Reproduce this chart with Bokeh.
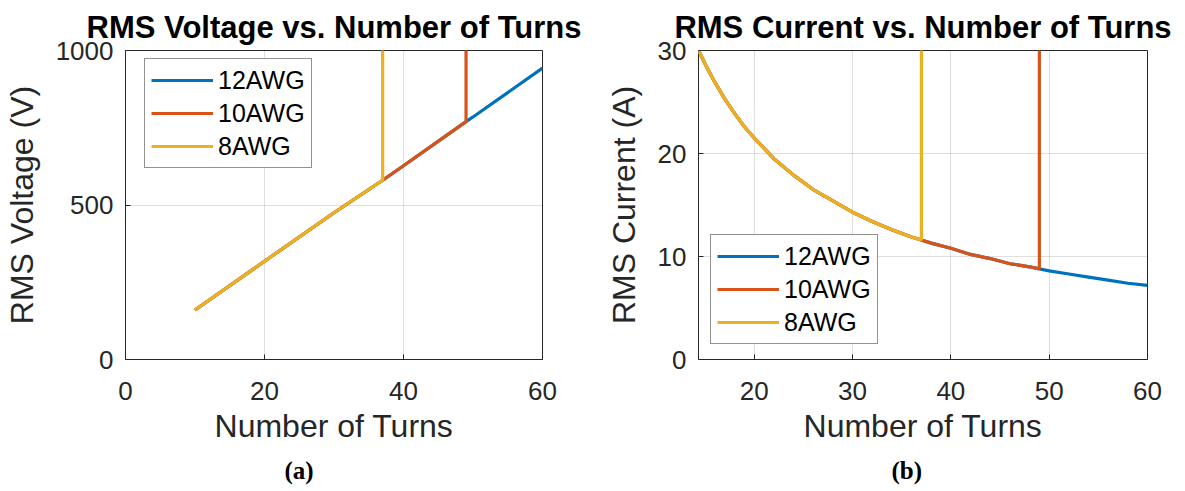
from bokeh.plotting import figure
from bokeh.layouts import row
from bokeh.models import Range1d, Legend, LegendItem, FixedTicker, Title
from bokeh.embed import file_html
from bokeh.resources import INLINE

# ---------------- data ----------------
series_names = ["12AWG", "10AWG", "8AWG"]
series_colors = ["#0072BD", "#D95319", "#EDB120"]
turn_limits = [None, 49, 37]          # max turns allowed per wire gauge

turns_v = [10, 20, 30, 37, 40, 49, 50, 60]
rms_voltage = [160, 318, 475, 580, 627, 770, 785, 943]

turns_i = [14.33, 15, 16, 17, 18, 19, 20, 22, 24, 26, 28, 30, 32, 34, 36, 37,
           38, 40, 42, 44, 46, 48, 49, 50, 52, 54, 56, 58, 60]
rms_current = [30.0, 28.7, 26.9, 25.3, 23.9, 22.6, 21.5, 19.5, 17.9, 16.5, 15.4,
               14.3, 13.4, 12.6, 11.9, 11.6, 11.3, 10.8, 10.2, 9.8, 9.3, 9.0,
               8.8, 8.6, 8.3, 8.0, 7.7, 7.4, 7.2]

v_xticks = [0, 20, 40, 60]
v_yticks = [0, 500, 1000]
i_xticks = [20, 30, 40, 50, 60]
i_yticks = [0, 10, 20, 30]

FONT = "Liberation Sans"
AX = "#262626"


def series(xs, ys, limit, top):
    if limit is None:
        return list(xs), list(ys)
    sx = [x for x in xs if x <= limit]
    sy = [y for x, y in zip(xs, ys) if x <= limit]
    return sx + [limit], sy + [top]


def make_fig(width, bl, br, xr, yr, xt, yt, title, ylabel, caption, cap_offset):
    p = figure(width=width, height=491, x_range=xr, y_range=yr,
               output_backend="svg", toolbar_location=None,
               min_border_left=bl, min_border_right=br,
               min_border_top=50, min_border_bottom=131, title=title)
    p.title.text_font = FONT
    p.title.text_font_size = "31px"
    p.title.text_font_style = "bold"
    p.title.text_color = "black"
    p.title.align = "center"
    p.title.standoff = 12
    p.outline_line_color = AX
    p.outline_line_alpha = 1
    p.outline_line_width = 1
    p.background_fill_color = "white"
    p.border_fill_color = "white"

    for ax, ticks in ((p.xaxis[0], xt), (p.yaxis[0], yt)):
        ax.ticker = FixedTicker(ticks=ticks)
        ax.major_label_text_font = FONT
        ax.major_label_text_font_size = "26px"
        ax.major_label_text_color = AX
        ax.axis_label_text_font = FONT
        ax.axis_label_text_font_size = "32px"
        ax.axis_label_text_font_style = "normal"
        ax.axis_label_text_color = AX
        ax.axis_line_color = None
        ax.major_tick_in = 5
        ax.major_tick_out = 0
        ax.major_tick_line_color = AX
        ax.minor_tick_line_color = None
    p.xaxis[0].axis_label = "Number of Turns"
    p.yaxis[0].axis_label = ylabel
    p.xaxis[0].major_label_standoff = 22
    p.yaxis[0].major_label_standoff = 12
    p.xaxis[0].axis_label_standoff = 5
    p.yaxis[0].axis_label_standoff = 13

    p.xgrid.ticker = FixedTicker(ticks=xt)
    p.ygrid.ticker = FixedTicker(ticks=yt)
    p.grid.grid_line_color = "#262626"
    p.grid.grid_line_alpha = 0.15
    p.grid.grid_line_width = 1

    cap = Title(text=caption, align="left", offset=cap_offset,
                text_font="Liberation Serif", text_font_style="bold",
                text_font_size="25px", text_color="black", standoff=16)
    p.add_layout(cap, "below")
    return p


def add_lines(p, xs, ys, top, loc):
    items = []
    for name, color, lim in zip(series_names, series_colors, turn_limits):
        sx, sy = series(xs, ys, lim, top)
        r = p.line(sx, sy, line_color=color, line_width=3.2)
        items.append(LegendItem(label=name, renderers=[r]))
    leg = Legend(items=items, location=loc)
    leg.label_text_font = FONT
    leg.label_text_font_size = "25px"
    leg.label_text_color = "black"
    leg.glyph_width = 62
    leg.glyph_height = 30
    leg.label_height = 30
    leg.label_standoff = 5
    leg.spacing = 3
    leg.padding = 6
    leg.margin = 0
    leg.border_line_color = AX
    leg.border_line_width = 1
    leg.background_fill_color = "white"
    leg.background_fill_alpha = 1
    p.add_layout(leg)


# ---------------- (a) voltage ----------------
pa = make_fig(592, 124, 50, Range1d(0, 60), Range1d(0, 1000), v_xticks, v_yticks,
              "RMS Voltage vs. Number of Turns", "RMS Voltage (V)", "(a)", 159)
add_lines(pa, turns_v, rms_voltage, 1100, (19, 191))

# ---------------- (b) current ----------------
pb = make_fig(593, 106, 38, Range1d(14.33, 60), Range1d(0, 30), i_xticks, i_yticks,
              "RMS Current vs. Number of Turns", "RMS Current (A)", "(b)", 193)
add_lines(pb, turns_i, rms_current, 33, (12, 15))

layout = row(pa, pb)
open("out.html", "w").write(file_html(layout, INLINE))
